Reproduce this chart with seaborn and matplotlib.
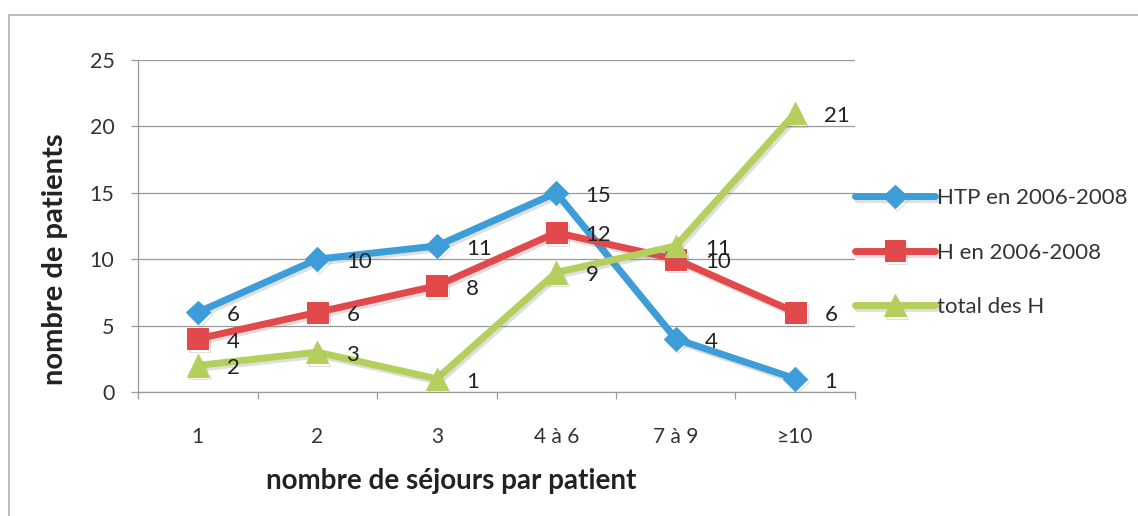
# Nombre de sejours par patient - line chart
import pandas as pd
import matplotlib.pyplot as plt
import matplotlib.patheffects as pe
from matplotlib.lines import Line2D
import seaborn as sns

# Data
categories = ['1', '2', '3', '4 à 6', '7 à 9', '≥10']
htp = [6, 10, 11, 15, 4, 1]
h = [4, 6, 8, 12, 10, 6]
total_h = [2, 3, 1, 9, 11, 21]
series_names = ['HTP en 2006-2008', 'H en 2006-2008', 'total des H']

colors = ['#3d9dd9', '#e1494b', '#b4cf5c']
markers = ['D', 's', '^']
msizes = [12, 15, 16]

sns.set_style('white')
plt.rcParams['font.family'] = ['Lato', 'DejaVu Sans']

fig = plt.figure(figsize=(11.38, 5.16), dpi=100)
ax = fig.add_axes([0.1213, 0.2403, 0.630, 0.6434])

shadow = [pe.SimpleLineShadow(offset=(1.5, -2), alpha=0.25, shadow_color='gray'), pe.Normal()]

for vals, name, col, mk, ms in zip([htp, h, total_h], series_names, colors, markers, msizes):
    df = pd.DataFrame({'cat': categories, 'val': vals})
    sns.lineplot(data=df, x='cat', y='val', ax=ax, color=col, linewidth=5,
                 marker=mk, markersize=ms, markeredgecolor=col, label=name,
                 path_effects=shadow, sort=False)
    for i, v in enumerate(vals):
        ax.annotate(str(v), (i, v), xytext=(21, -2), textcoords='offset points',
                    ha='left', va='center', fontsize=16, color='#222222')

ax.set_xlim(-0.5, 5.5)
ax.set_ylim(0, 25)
ax.set_yticks([0, 5, 10, 15, 20, 25])
ax.set_xticks(range(len(categories)))
ax.set_xticklabels(categories)
ax.yaxis.grid(True, color='#9a9a9a', linewidth=0.9)
ax.xaxis.grid(False)
for s in ['top', 'right']:
    ax.spines[s].set_visible(False)
for s in ['left', 'bottom']:
    ax.spines[s].set_color('#9a9a9a')
    ax.spines[s].set_linewidth(0.9)

# tick marks on category boundaries
ax.set_xticks([x + 0.5 for x in range(-1, 6)], minor=True)
ax.tick_params(axis='x', which='minor', length=5, color='#9a9a9a', width=0.9, direction='out', bottom=True)
ax.tick_params(axis='x', which='major', length=0, pad=25, labelsize=15, labelcolor='#333333')
ax.tick_params(axis='y', which='major', length=5, color='#9a9a9a', width=0.9, direction='out', left=True,
               pad=12, labelsize=15.5, labelcolor='#333333')

ax.set_xlabel('nombre de séjours par patient', fontsize=20, fontweight='bold', color='#222222')
ax.set_ylabel('nombre de patients', fontsize=21, fontweight='bold', color='#222222')
ax.xaxis.set_label_coords(0.437, -0.228)
ax.yaxis.set_label_coords(-0.097, 0.40)

leg = ax.legend(loc='center left', bbox_to_anchor=(1.0, 0.42), frameon=False, fontsize=16,
                handlelength=3.6, handletextpad=0.1, labelspacing=1.55, borderaxespad=0.0,
                borderpad=0.0)
for t in leg.get_texts():
    t.set_color('#333333')

# outer chart border (left and top visible)
fig.add_artist(Line2D([9 / 1138, 9 / 1138], [0, 1 - 15 / 516], transform=fig.transFigure,
                      color='#b0b0b0', linewidth=1.2))
fig.add_artist(Line2D([9 / 1138, 1], [1 - 15 / 516, 1 - 15 / 516], transform=fig.transFigure,
                      color='#b0b0b0', linewidth=1.2))

fig.savefig('out.png', dpi=100)
